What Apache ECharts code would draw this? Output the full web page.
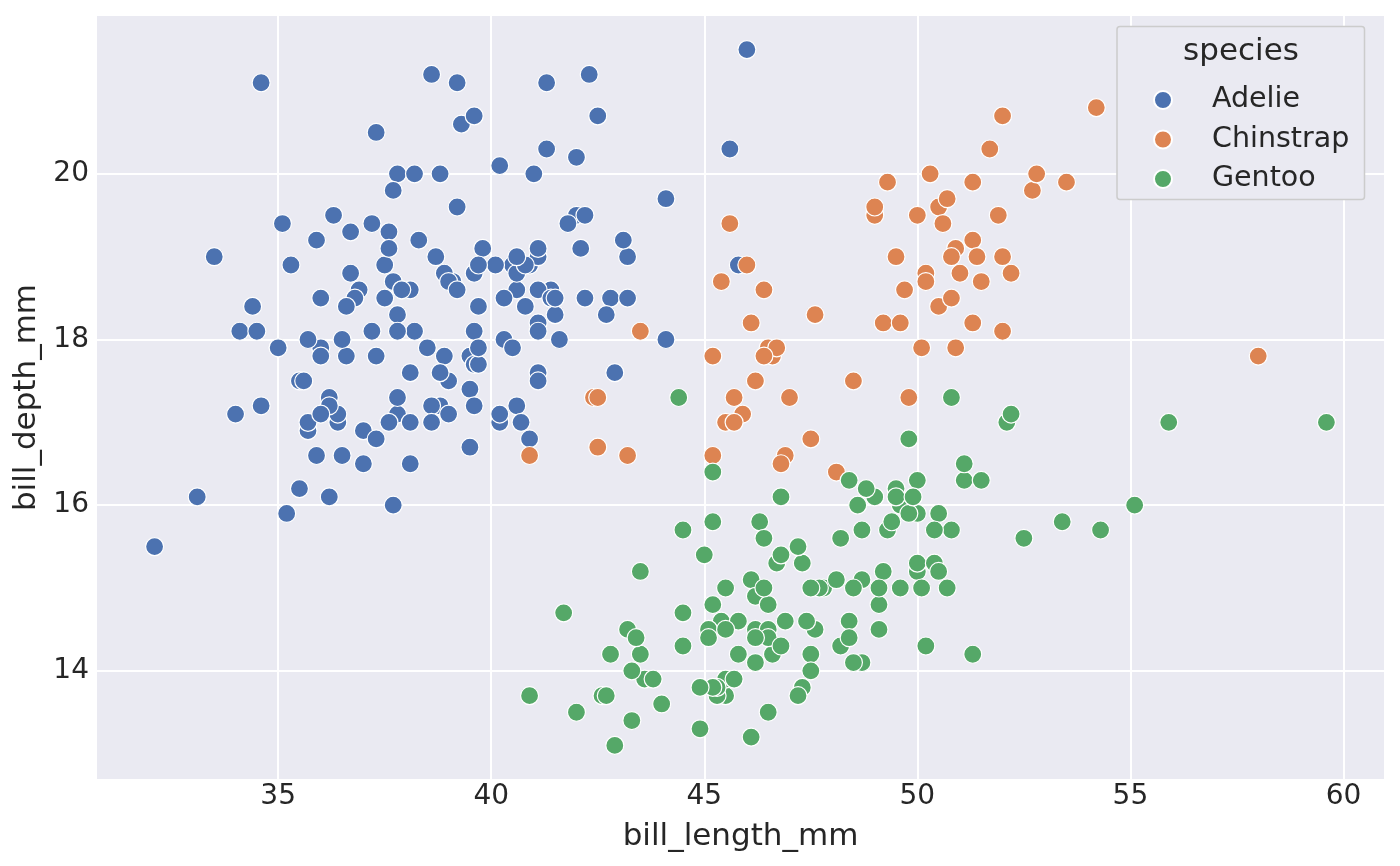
<!DOCTYPE html>
<html>
<head>
<meta charset="utf-8">
<script src="https://cdn.jsdelivr.net/npm/echarts@6/dist/echarts.min.js"></script>
<style>
html,body{margin:0;padding:0;background:#fff;}
#chart{width:1400px;height:866px;}
</style>
</head>
<body>
<div id="chart"></div>
<script>
const species = ['Adelie', 'Chinstrap', 'Gentoo'];
const colors = ['#4C72B0', '#DD8452', '#55A868'];

const adelieLength = [39.1,39.5,40.3,36.7,39.3,38.9,39.2,34.1,42.0,37.8,37.8,41.1,38.6,34.6,36.6,38.7,42.5,34.4,46.0,37.8,37.7,35.9,38.2,38.8,35.3,40.6,40.5,37.9,40.5,39.5,37.2,39.5,40.9,36.4,39.2,38.8,42.2,37.6,39.8,36.5,40.8,36.0,44.1,37.0,39.6,41.1,37.5,36.0,42.3,39.6,40.1,35.0,42.0,34.5,41.4,39.0,40.6,36.5,37.6,35.7,41.3,37.6,41.1,36.4,41.6,35.5,41.1,35.9,41.8,33.5,39.7,39.6,45.8,35.5,42.8,40.9,37.2,36.2,42.1,34.6,42.9,36.7,35.1,37.3,41.3,36.3,36.9,38.3,38.9,35.7,41.1,34.0,39.6,36.2,40.8,38.1,40.3,33.1,43.2,35.0,41.0,37.7,37.8,37.9,39.7,38.6,38.2,38.1,43.2,38.1,45.6,39.7,42.2,39.6,42.7,38.6,37.3,35.7,41.1,36.2,37.7,40.2,41.4,35.2,40.6,38.8,41.5,39.0,44.1,38.5,43.1,36.8,37.5,38.1,41.1,35.6,40.2,37.0,39.7,40.2,40.6,32.1,40.7,37.3,39.0,39.2,36.6,36.0,37.8,36.0,41.5];
const adelieDepth = [18.7,17.4,18.0,19.3,20.6,17.8,19.6,18.1,20.2,17.1,17.3,17.6,21.2,21.1,17.8,19.0,20.7,18.4,21.5,18.3,18.7,19.2,18.1,17.2,18.9,18.6,17.9,18.6,18.9,16.7,18.1,17.8,18.9,17.0,21.1,20.0,18.5,19.3,19.1,18.0,18.4,18.5,19.7,16.9,18.8,19.0,18.9,17.9,21.2,17.7,18.9,17.9,19.5,18.1,18.6,17.5,18.8,16.6,19.1,16.9,21.1,17.0,18.2,17.1,18.0,16.2,19.1,16.6,19.4,19.0,18.4,17.2,18.9,17.5,18.5,16.8,19.4,16.1,19.1,17.2,17.6,18.8,19.4,17.8,20.3,19.5,18.6,19.2,18.8,18.0,18.1,17.1,18.1,17.3,18.9,18.6,18.5,16.1,18.5,17.9,20.0,16.0,20.0,18.6,18.9,17.2,20.0,17.0,19.0,16.5,20.3,17.7,19.5,20.7,18.3,17.0,20.5,17.0,18.6,17.2,19.8,17.0,18.5,15.9,19.0,17.6,18.3,17.1,18.0,17.9,19.2,18.5,18.5,17.6,17.5,17.5,20.1,16.5,17.9,17.1,17.2,15.5,17.0,16.8,18.7,18.6,18.4,17.8,18.1,17.1,18.5];

const chinstrapLength = [46.5,50.0,51.3,45.4,52.7,45.2,46.1,51.3,46.0,51.3,46.6,51.7,47.0,52.0,45.9,50.5,50.3,58.0,46.4,49.2,42.4,48.5,43.2,50.6,46.7,52.0,50.5,49.5,46.4,52.8,40.9,54.2,42.5,51.0,49.7,47.5,47.6,52.0,46.9,53.5,49.0,46.2,50.9,45.5,50.9,50.8,50.1,49.0,51.5,49.8,48.1,51.4,45.7,50.7,42.5,52.2,45.2,49.3,50.2,45.6,51.9,46.8,45.7,55.8,43.5,49.6,50.8,50.2];
const chinstrapDepth = [17.9,19.5,19.2,18.7,19.8,17.8,18.2,18.2,18.9,19.9,17.8,20.3,17.3,18.1,17.1,19.6,20.0,17.8,18.6,18.2,17.3,17.5,16.6,19.4,17.9,19.0,18.4,19.0,17.8,20.0,16.6,20.8,16.7,18.8,18.6,16.8,18.3,20.7,16.6,19.9,19.5,17.5,19.1,17.0,17.9,18.5,17.9,19.6,18.7,17.3,16.4,19.0,17.3,19.7,17.3,18.8,16.6,19.9,18.8,19.4,19.5,16.5,17.0,19.8,18.1,18.2,19.0,18.7];

const gentooLength = [46.1,50.0,48.7,50.0,47.6,46.5,45.4,46.7,43.3,46.8,40.9,49.0,45.5,48.4,45.8,49.3,42.0,49.2,46.2,48.7,50.2,45.1,46.5,46.3,42.9,46.1,44.5,47.8,48.2,50.0,47.3,42.8,45.1,59.6,49.1,48.4,42.6,44.4,44.0,48.7,42.7,49.6,45.3,49.6,50.5,43.6,45.5,50.5,44.9,45.2,46.6,48.5,45.1,50.1,46.5,45.0,43.8,45.5,43.2,50.4,45.3,46.2,45.7,54.3,45.8,49.8,46.2,49.5,43.5,50.7,47.7,46.4,48.2,46.5,46.4,48.6,47.5,51.1,45.2,45.2,49.1,52.5,47.4,50.0,44.9,50.8,43.4,51.3,47.5,52.1,47.5,52.2,45.5,49.5,44.5,50.8,49.4,46.9,48.4,51.1,48.5,55.9,47.2,49.1,47.3,46.8,41.7,53.4,43.3,48.1,50.5,49.8,43.5,51.5,46.2,55.1,44.5,48.8,47.2,46.8,50.4,45.2,49.9];
const gentooDepth = [13.2,16.3,14.1,15.2,14.5,13.5,14.6,15.3,13.4,15.4,13.7,16.1,13.7,14.6,14.6,15.7,13.5,15.2,14.5,15.1,14.3,14.5,14.5,15.8,13.1,15.1,14.3,15.0,14.3,15.3,15.3,14.2,14.5,17.0,14.8,16.3,13.7,17.3,13.6,15.7,13.7,16.0,13.7,15.0,15.9,13.9,13.9,15.9,13.3,15.8,14.2,14.1,14.4,15.0,14.4,15.4,13.9,15.0,14.5,15.3,13.8,14.9,13.9,15.7,14.2,16.8,14.4,16.2,14.2,15.0,15.0,15.6,15.6,14.8,15.0,16.0,14.2,16.3,13.8,16.4,14.5,15.6,14.6,15.9,13.8,17.3,14.4,14.2,14.0,17.0,15.0,17.1,14.5,16.1,14.7,15.7,15.8,14.6,14.4,16.5,15.0,17.0,15.5,15.0,13.8,16.1,14.7,15.8,14.0,15.1,15.2,15.9,15.2,16.3,14.1,16.0,15.7,16.2,13.7,14.3,15.7,14.8,16.1];

const lengths = [adelieLength, chinstrapLength, gentooLength];
const depths = [adelieDepth, chinstrapDepth, gentooDepth];

const xMin = 30.725, xMax = 60.975;
const yMin = 12.682, yMax = 21.918;

const textColor = '#262626';
const font = 'DejaVu Sans';

const chart = echarts.init(document.getElementById('chart'), null, {renderer: 'canvas'});

const series = species.map((name, i) => ({
  name: name,
  type: 'scatter',
  data: lengths[i].map((v, j) => [v, depths[i][j]]),
  symbol: 'circle',
  symbolSize: 18,
  itemStyle: {color: colors[i], borderColor: '#ffffff', borderWidth: 1.2, opacity: 1},
  emphasis: {disabled: true},
  animation: false,
  z: 2
}));

const option = {
  backgroundColor: '#ffffff',
  animation: false,
  textStyle: {fontFamily: font},
  grid: {
    left: 96, top: 15, right: 15, bottom: 86,
    show: true, backgroundColor: '#EAEAF2', borderWidth: 0,
    containLabel: false,
    outerBoundsMode: 'none'
  },
  xAxis: {
    type: 'value', min: xMin, max: xMax, splitNumber: 6,
    axisLine: {show: false}, axisTick: {show: false},
    splitLine: {show: true, lineStyle: {color: '#ffffff', width: 2}},
    axisLabel: {fontSize: 28, color: textColor, margin: 3, fontFamily: font,
      showMinLabel: false, showMaxLabel: false,
      formatter: v => (Math.abs(v % 5) < 1e-9 ? String(v) : '')},
    name: 'bill_length_mm', nameLocation: 'middle', nameGap: 41,
    nameTextStyle: {fontSize: 31, color: textColor, fontFamily: font}
  },
  yAxis: {
    type: 'value', min: yMin, max: yMax, splitNumber: 5,
    axisLine: {show: false}, axisTick: {show: false},
    splitLine: {show: true, lineStyle: {color: '#ffffff', width: 2}},
    axisLabel: {fontSize: 28, color: textColor, margin: 7, fontFamily: font,
      showMinLabel: false, showMaxLabel: false,
      formatter: v => (Math.abs(v % 2) < 1e-9 ? String(v) : '')},
    name: 'bill_depth_mm', nameLocation: 'middle', nameGap: 45,
    nameTextStyle: {fontSize: 31, color: textColor, fontFamily: font}
  },
  legend: {
    data: species,
    orient: 'vertical',
    left: 1148, top: 80,
    itemWidth: 18, itemHeight: 18,
    itemGap: 9.5,
    icon: 'circle',
    textStyle: {fontSize: 28.5, color: textColor, fontFamily: font, lineHeight: 30, padding: [0, 0, 0, 35]},
    selectedMode: false,
    zlevel: 1,
    z: 20
  },
  graphic: [
    {
      type: 'rect', zlevel: 1, z: 15, silent: true,
      shape: {x: 1117, y: 26.5, width: 247.5, height: 173, r: 3},
      style: {fill: '#EAEAF2', stroke: '#CCCCCC', lineWidth: 1.5}
    },
    {
      type: 'text', zlevel: 1, z: 16, silent: true,
      x: 1241, y: 52,
      style: {text: 'species', font: '31px "DejaVu Sans"', fill: textColor, align: 'center', verticalAlign: 'middle'}
    }
  ],
  series: series
};
chart.setOption(option);
</script>
</body>
</html>
